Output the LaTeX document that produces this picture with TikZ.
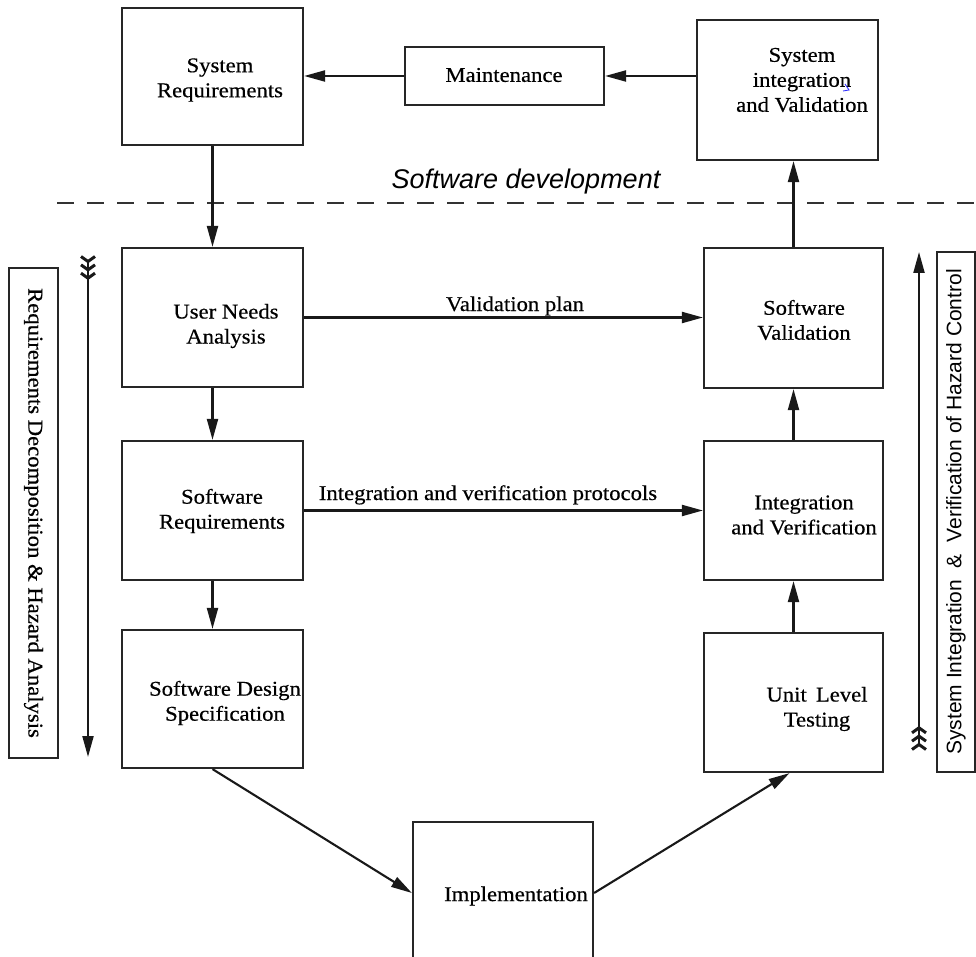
\documentclass[tikz,border=0pt]{standalone}
\usepackage{fontspec}
\setmainfont{Liberation Serif}[FakeStretch=1.08,FakeBold=0.5]
\newfontfamily\labelsans{Liberation Sans}
\usetikzlibrary{arrows.meta,calc}

\begin{document}
\begin{tikzpicture}[x=1pt,y=-1pt,
  box/.style={draw=black!85,line width=2.2pt,inner sep=0pt},
  txt/.style={align=center,inner sep=0pt,font=\fontsize{21}{25}\selectfont},
  flow/.style={line width=2.1pt,draw=black!90,-{Triangle[length=21pt,width=11pt]}},
  sideflow/.style={line width=2.1pt,draw=black!90,
    {Straight Barb[reversed,length=5pt,width=14pt,line width=3pt]
     Straight Barb[reversed,length=5pt,width=14pt,line width=3pt]
     Straight Barb[reversed,length=5pt,width=14pt,line width=3pt]}-{Triangle[length=21pt,width=11pt]}},
  flowlabel/.style={anchor=base,inner sep=0pt,font=\fontsize{21}{25}\selectfont},
  divider/.style={line width=1.9pt,draw=black!80,dash pattern=on 17pt off 13pt}
]
\useasboundingbox (0,0) rectangle (976,957);
\clip (0,0) rectangle (976,957);

% ---- boxes ----
\node[box,minimum width=181pt,minimum height=137pt] (sysreq) at (212.5,76.5) {};
\node[box,minimum width=199pt,minimum height=58pt]  (maint)  at (504.5,76) {};
\node[box,minimum width=181pt,minimum height=140pt] (sysint) at (787.5,90) {};
\node[box,minimum width=181pt,minimum height=139pt] (needs)  at (212.5,317.5) {};
\node[box,minimum width=179pt,minimum height=140pt] (swval)  at (793.5,318) {};
\node[box,minimum width=181pt,minimum height=139pt] (swreq)  at (212.5,510.5) {};
\node[box,minimum width=179pt,minimum height=139pt] (intver) at (793.5,510.5) {};
\node[box,minimum width=181pt,minimum height=138pt] (sds)    at (212.5,699) {};
\node[box,minimum width=179pt,minimum height=139pt] (unit)   at (793.5,702.5) {};
\node[box,minimum width=180pt,minimum height=168pt] (impl)   at (503,906) {};

% ---- box texts ----
\node[txt] (sysreqT) at (220,80)  {System\\Requirements};
\node[txt] (maintT)  at (504,75)  {Maintenance};
\node[txt] (sysintT) at (802,80)  {System\\integration\\and Validation};
\node[txt] (needsT)  at (226,326) {User Needs\\Analysis};
\node[txt] (swvalT)  at (804,320) {Software\\Validation};
\node[txt] (swreqT)  at (222,511) {Software\\Requirements};
\node[txt] (intverT) at (804,515) {Integration\\and Verification};
\node[txt] (sdsT)    at (225,703) {Software Design\\Specification};
\node[txt] (unitT)   at (817,709) {Unit\, Level\\Testing};
\node[txt] (implT)   at (516,896) {Implementation};

% small blue pen mark beside "integration"
\draw[blue!80,line width=0.9pt] (845,84) -- (849,90) -- (843,91);

% ---- side bands ----
\node[box,rotate=-90,minimum width=490pt,minimum height=49pt,
      font=\fontsize{21}{25}\selectfont] (leftband) at (33.5,513)
      {Requirements Decomposition \& Hazard Analysis};
\node[box,rotate=90,minimum width=520pt,minimum height=38pt,
      font=\labelsans\fontsize{21}{25}\selectfont] (rightband) at (956,512)
      {System Integration \ \& \ Verification of Hazard Control};

\coordinate (ltop) at (88,255);
\coordinate (lbot) at (88,757);
\coordinate (rbot) at (919,751);
\coordinate (rtop) at (919,252);
\draw[sideflow] (ltop) -- (lbot);
\draw[sideflow] (rbot) -- (rtop);

% ---- divider ----
\coordinate (divL) at (57,203);
\coordinate (divR) at (980,203);
\draw[divider] (divL) -- (divR);
\node[font=\labelsans\itshape\fontsize{27}{31}\selectfont,inner sep=0pt] (devlabel) at (526,182) {Software development};

% ---- top loop ----
\draw[flow] (maint.east -| sysint.west) -- (maint.east);
\draw[flow] (maint.west) -- (maint.west -| sysreq.east);
\draw[flow] (sysreq.south) -- (needs.north);

% ---- left leg ----
\draw[flow] (needs.south) -- (swreq.north);
\draw[flow] (swreq.south) -- (sds.north);
\draw[flow] (sds.south) -- ([yshift=13pt]impl.west);

% ---- right leg ----
\draw[flow] ([yshift=13pt]impl.east) -- ([xshift=-4pt]unit.south);
\draw[flow] (unit.north) -- (intver.south);
\draw[flow] (intver.north) -- (swval.south);
\draw[flow] (swval.north) -- (swval.north |- sysint.south);

% ---- cross links ----
\draw[flow] (needs.east) -- (needs.east -| swval.west);
\node[flowlabel] (vplan) at (515,311) {Validation plan};
\draw[flow] (swreq.east) -- (swreq.east -| intver.west);
\node[flowlabel] (ivprot) at (488,500) {Integration and verification protocols};
\end{tikzpicture}
\end{document}
